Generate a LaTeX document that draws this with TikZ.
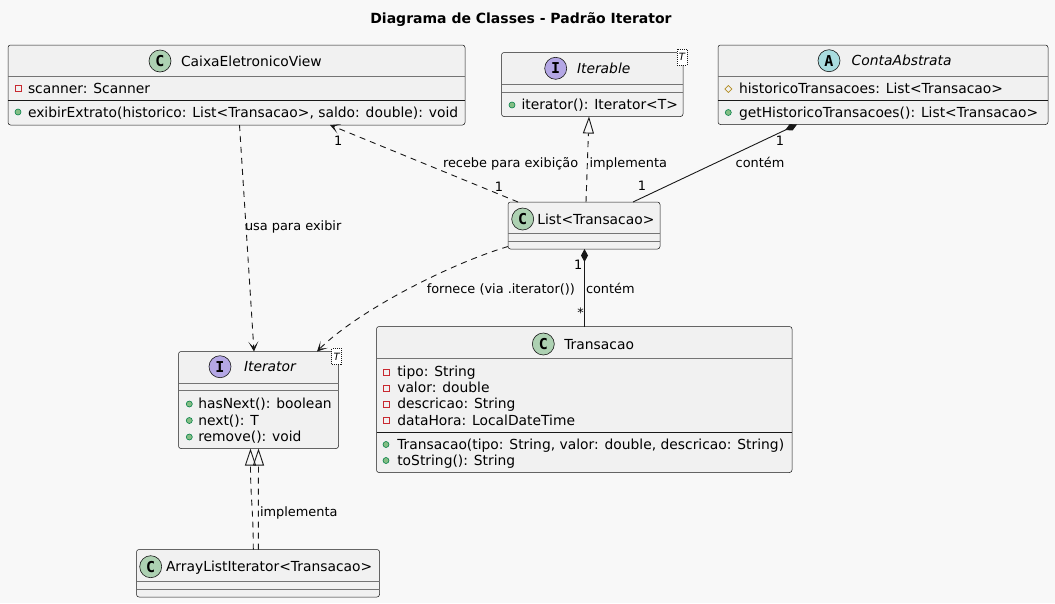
\documentclass[tikz,border=0pt]{standalone}
\usepackage{fontspec}
\setmainfont{DejaVu Sans}
\setmonofont{DejaVu Sans Mono}
\usetikzlibrary{arrows.meta,calc}
\definecolor{bg}{HTML}{F8F8F8}
\definecolor{boxfill}{HTML}{F1F1F1}
\definecolor{lc}{HTML}{181818}
\definecolor{cgreen}{HTML}{ADD1B2}
\definecolor{cviolet}{HTML}{B4A7E5}
\definecolor{cteal}{HTML}{A9DCDF}
\definecolor{privc}{HTML}{C82930}
\definecolor{pubf}{HTML}{84BE84}
\definecolor{pubd}{HTML}{038048}
\definecolor{protc}{HTML}{B38D22}
\newcommand\privicon[2]{\draw[privc, line width=0.8pt] ({#1-3},{#2-3}) rectangle ({#1+3},{#2+3});}
\newcommand\pubicon[2]{\filldraw[fill=pubf, draw=pubd, line width=0.6pt] (#1,#2) circle[radius=3pt];}
\newcommand\proticon[2]{\draw[protc, line width=0.7pt] ({#1-3.5},#2) -- (#1,{#2-3.5}) -- ({#1+3.5},#2) -- (#1,{#2+3.5}) -- cycle;}
\begin{document}
\begin{tikzpicture}[x=1pt,y=-1pt,
  every node/.style={inner sep=0pt, outer sep=0pt},
  cls/.style={draw=lc, line width=0.5pt, fill=boxfill, rounded corners=2.5pt, anchor=north west},
  mtxt/.style={anchor=west, text height=10pt, text depth=0pt, font=\fontsize{13.85}{16}\selectfont},
  ltxt/.style={anchor=west, text height=9.5pt, text depth=0pt, font=\fontsize{12.9}{15}\selectfont},
  lctr/.style={anchor=center, text height=9.5pt, text depth=0pt, font=\fontsize{12.9}{15}\selectfont},
  circ/.style={circle, draw=lc, line width=0.6pt, minimum size=22pt, font=\ttfamily\bfseries\fontsize{15}{15}\selectfont},
  tparam/.style={draw=lc, line width=0.5pt, dash pattern=on 1pt off 1pt, fill=white, minimum width=10pt, minimum height=16pt, font=\itshape\fontsize{10}{10}\selectfont},
  gsep/.style={draw=lc!60, line width=0.6pt},
  bsep/.style={draw=lc, line width=0.9pt},
  edge/.style={draw=lc, line width=0.9pt},
  dsh/.style={dash pattern=on 6pt off 5pt},
  >={Stealth[length=10pt,width=10pt,inset=6pt]},
  realiz/.style={-{Triangle[open,length=17pt,width=11pt]}},
  compo/.style={{Diamond[length=13pt,width=7pt]}-}
]
\fill[bg] (0,0) rectangle (1055,603);
\useasboundingbox (0,0) rectangle (1055,603);

\node[font=\bfseries\fontsize{14}{16}\selectfont, text height=10pt, text depth=0pt] (title) at (521,18) {Diagrama de Classes - Padrão Iterator};

% CaixaEletronicoView
\node[cls, minimum width=457pt, minimum height=80pt] (caixa) at (8,45) {};
\node[circ, fill=cgreen] (caixaC) at (160,61) {C};
\node[mtxt] (caixaN) at (181,61) {CaixaEletronicoView};
\draw[gsep] (8,76) -- (465,76);
\privicon{18}{88}
\node[mtxt] (caixaA1) at (28,88) {scanner: Scanner};
\draw[bsep] (8,100) -- (465,100);
\pubicon{18}{112}
\node[mtxt] (caixaM1) at (28,112) {exibirExtrato(historico: List<Transacao>, saldo: double): void};

% Iterable
\node[cls, minimum width=181.5pt, minimum height=64pt] (iterable) at (501.5,52.5) {};
\node[circ, fill=cviolet] (iterableC) at (555.7,68.3) {I};
\node[mtxt, font=\itshape\fontsize{13.85}{16}\selectfont] (iterableN) at (577,68.3) {Iterable};
\draw[gsep] (501.5,84) -- (683,84);
\draw[gsep] (501.5,92) -- (683,92);
\pubicon{512}{105}
\node[mtxt] (iterableM1) at (521.5,104.5) {iterator(): Iterator<T>};
\node[tparam] (iterableT) at (682,57) {T};

% ContaAbstrata
\node[cls, minimum width=330pt, minimum height=79.5pt] (conta) at (718,45) {};
\node[circ, fill=cteal] (contaC) at (829,60.7) {A};
\node[mtxt, font=\itshape\fontsize{13.85}{16}\selectfont] (contaN) at (851.7,60.7) {ContaAbstrata};
\draw[gsep] (718,76) -- (1048,76);
\proticon{728.3}{89}
\node[mtxt] (contaA1) at (739,88) {historicoTransacoes: List<Transacao>};
\draw[bsep] (718,100.5) -- (1048,100.5);
\pubicon{728.3}{112.5}
\node[mtxt] (contaM1) at (739,112) {getHistoricoTransacoes(): List<Transacao>};

% List<Transacao>
\node[cls, minimum width=152pt, minimum height=47pt] (list) at (508,202) {};
\node[circ, fill=cgreen] (listC) at (522.7,219) {C};
\node[mtxt] (listN) at (537.3,219) {List<Transacao>};
\draw[gsep] (508,233) -- (660,233);
\draw[gsep] (508,241.5) -- (660,241.5);

% Iterator
\node[cls, minimum width=160pt, minimum height=97pt] (iterator) at (178.5,351.5) {};
\node[circ, fill=cviolet] (iteratorC) at (220,366.7) {I};
\node[mtxt, font=\itshape\fontsize{13.85}{16}\selectfont] (iteratorN) at (244,366.7) {Iterator};
\draw[gsep] (178.5,383.3) -- (338.5,383.3);
\draw[gsep] (178.5,390.7) -- (338.5,390.7);
\pubicon{189.3}{404}
\node[mtxt] (iteratorM1) at (198.3,403.3) {hasNext(): boolean};
\pubicon{189.3}{420.5}
\node[mtxt] (iteratorM2) at (198.3,420) {next(): T};
\pubicon{189.3}{437}
\node[mtxt] (iteratorM3) at (198.3,436.7) {remove(): void};
\node[tparam] (iteratorT) at (336.7,356.5) {T};

% Transacao
\node[cls, minimum width=415.5pt, minimum height=146pt] (transacao) at (376.5,326.5) {};
\node[circ, fill=cgreen] (transacaoC) at (543.3,344) {C};
\node[mtxt] (transacaoN) at (564.3,344) {Transacao};
\draw[gsep] (376.5,358.3) -- (792,358.3);
\privicon{386}{372}
\node[mtxt] (transacaoA1) at (397.3,371.7) {tipo: String};
\privicon{386}{388}
\node[mtxt] (transacaoA2) at (397.3,387.8) {valor: double};
\privicon{386}{404}
\node[mtxt] (transacaoA3) at (397.3,403.9) {descricao: String};
\privicon{386}{420}
\node[mtxt] (transacaoA4) at (397.3,420) {dataHora: LocalDateTime};
\draw[bsep] (376.5,432.3) -- (792,432.3);
\pubicon{386}{444.5}
\node[mtxt] (transacaoM1) at (397.3,444.3) {Transacao(tipo: String, valor: double, descricao: String)};
\pubicon{386}{460.5}
\node[mtxt] (transacaoM2) at (397.3,460) {toString(): String};

% ArrayListIterator<Transacao>
\node[cls, minimum width=243pt, minimum height=47.5pt] (ali) at (136.5,549.5) {};
\node[circ, fill=cgreen] (aliC) at (150.7,566.7) {C};
\node[mtxt] (aliN) at (166,566.7) {ArrayListIterator<Transacao>};
\draw[gsep] (136.5,581.7) -- (379.5,581.7);
\draw[gsep] (136.5,589.3) -- (379.5,589.3);

% Connectors
\draw[edge,dsh,->] ([xshift=231.5pt]caixa.south west) -- ([xshift=75.5pt]iterator.north west);
\node[ltxt] (lblUsa) at (245,226) {usa para exibir};

\draw[edge,dsh,->] ([xshift=10pt]list.north west) -- ([xshift=322pt]caixa.south west);
\node[ltxt] (lblRecebe) at (443,163) {recebe para exibição};
\node[lctr] (lblRecebe1a) at (338.3,140.7) {1};
\node[lctr] (lblRecebe1b) at (499,187) {1};

\draw[edge,dsh,realiz] ([xshift=78pt]list.north west) -- ([xshift=87.5pt]iterable.south west);
\node[ltxt] (lblImpl1) at (589.5,163) {implementa};

\draw[edge,compo] ([xshift=79pt]conta.south west) -- ([xshift=125pt]list.north west);
\node[ltxt] (lblContem1) at (735.7,163) {contém};
\node[lctr] (lblContem1a) at (780,140.7) {1};
\node[lctr] (lblContem1b) at (642,186) {1};

\draw[edge,compo] ([xshift=76.5pt]list.south west) -- ([xshift=208pt]transacao.north west);
\node[ltxt] (lblContem2) at (586,288.3) {contém};
\node[lctr] (lblContem2a) at (578.3,265) {1};
\node[lctr] (lblContem2b) at (580.7,313) {*};

\draw[edge,dsh,->] ([yshift=2.5pt]list.south west) .. controls +(-60,18) and +(40,-40) .. ([xshift=138.5pt]iterator.north west);
\node[ltxt, anchor=east] (lblFornece) at (575,288.3) {fornece (via .iterator())};

\draw[edge,dsh,realiz] ([xshift=121.8pt]ali.north west) -- ([xshift=80pt]iterator.south west);
\draw[edge,dsh,realiz] ([xshift=116.8pt]ali.north west) .. controls +(0,-40) and +(0,50) .. ([xshift=72pt]iterator.south west);
\node[ltxt] (lblImpl2) at (260,511.7) {implementa};
\end{tikzpicture}
\end{document}
